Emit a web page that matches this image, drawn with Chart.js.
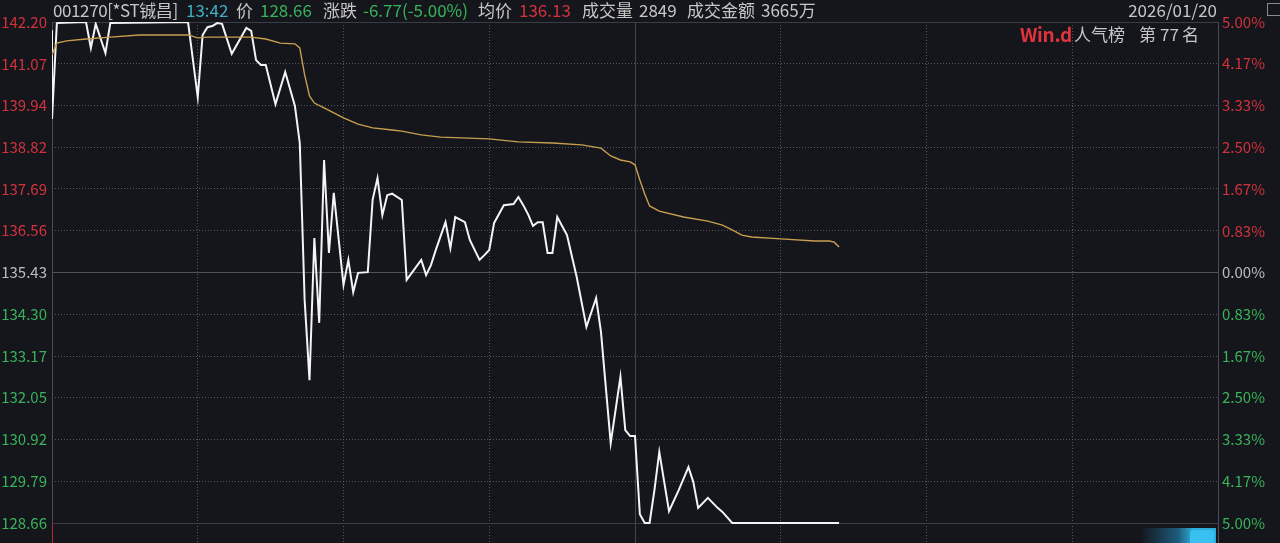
<!DOCTYPE html>
<html>
<head>
<meta charset="utf-8">
<script src="https://cdn.jsdelivr.net/npm/chart.js@4.4.1/dist/chart.umd.min.js"></script>
<style>
  html, body { margin: 0; padding: 0; background: #14161c; }
  #wrap { position: relative; width: 1280px; height: 543px; overflow: hidden;
          font-family: "Noto Sans CJK SC", "Noto Sans", sans-serif; }
  #wrap canvas { position: absolute; left: 0; top: 0; }
  .t { position: absolute; top: 0; line-height: 20px; font-size: 17px; color: #c6c6c6; white-space: nowrap; }
  .red { color: #d3323d; }
  .green { color: #39b35a; }
  .teal { color: #3fb0c2; }
  .lg { position: absolute; top: 24px; line-height: 20px; font-size: 17px; color: #c6c6c6; white-space: nowrap; }
  .lg.win { color: #e0333b; font-size: 19px; font-weight: 700; letter-spacing: -0.3px; }
  .blob { position: absolute; left: 1140px; top: 528px; width: 76px; height: 15px;
          background: linear-gradient(90deg, rgba(40,150,210,0) 0%, rgba(40,160,220,0.5) 50%, rgba(50,190,240,0.9) 70%); }
  .blob i { position: absolute; right: 2px; top: 2px; width: 24px; height: 16px; border-radius: 3px; background: #38c0f0; }
  .icon { position: absolute; left: 1267px; top: 3px; width: 12px; height: 11px; border: 1px solid #8a8a8a; }
</style>
</head>
<body>
<div id="wrap">
  <canvas id="fenshi" width="1280" height="543"></canvas>
  <span class="t" style="left:53px;letter-spacing:-0.4px">001270[*ST铖昌]</span>
  <span class="t teal" style="left:186px">13:42</span>
  <span class="t" style="left:236px">价</span>
  <span class="t green" style="left:260px">128.66</span>
  <span class="t" style="left:323px">涨跌</span>
  <span class="t green" style="left:363px">-6.77(-5.00%)</span>
  <span class="t" style="left:478px">均价</span>
  <span class="t red" style="left:519px">136.13</span>
  <span class="t" style="left:582px">成交量</span>
  <span class="t" style="left:639px">2849</span>
  <span class="t" style="left:687px">成交金额</span>
  <span class="t" style="left:761px">3665万</span>
  <span class="t" style="right:63px">2026/01/20</span>
  <span class="lg win" style="left:1020px">Win.d</span>
  <span class="lg" style="left:1074px">人气榜</span>
  <span class="lg" style="left:1139px">第</span>
  <span class="lg red" style="left:1160px">77</span>
  <span class="lg" style="left:1182px">名</span>
  <div class="icon"></div>
  <div class="blob"><i></i></div>
</div>
<script>
// minutes since 09:30 (11:30 and 13:00 share minute 120)
const minuteTicks = [0, 30, 60, 90, 120, 150, 180, 210, 240];

const priceLabels = ['142.20', '141.07', '139.94', '138.82', '137.69', '136.56', '135.43',
                     '134.30', '133.17', '132.05', '130.92', '129.79', '128.66'];
const pctLabels = ['5.00%', '4.17%', '3.33%', '2.50%', '1.67%', '0.83%', '0.00%',
                   '0.83%', '1.67%', '2.50%', '3.33%', '4.17%', '5.00%'];
const prevClose = 135.43;

// price line (vertices)
const priceMinutes = [0, 0, 1, 7, 8, 9, 11, 12, 28, 30, 31, 32, 33, 34, 35, 37, 40, 41, 42, 43, 44,
  46, 48, 50, 51, 52, 53, 54, 55, 56, 57, 58, 60, 61, 62, 63, 65, 66, 67, 68, 69, 70, 72, 73,
  76, 77, 78, 79, 81, 82, 83, 85, 86, 88, 89, 90, 91, 93, 95, 96, 97, 98, 99, 100, 101, 102,
  103, 104, 106, 108, 110, 112, 113, 115, 117, 118, 119, 120, 121, 122, 123, 124, 125, 127,
  129, 131, 132, 133, 135, 137, 138, 140, 162];
const prices = [141.98, 139.58, 142.17, 142.20, 141.50, 142.15, 141.36, 142.17, 142.20, 140.17,
  141.85, 142.06, 142.09, 142.17, 142.15, 141.34, 142.04, 141.96, 141.17, 141.04, 141.04,
  139.98, 140.85, 139.93, 138.93, 134.69, 132.52, 136.36, 134.07, 138.47, 135.96, 137.58,
  135.09, 135.77, 134.90, 135.42, 135.44, 137.40, 137.98, 136.98, 137.52, 137.56, 137.39,
  135.23, 135.77, 135.36, 135.63, 136.04, 136.79, 136.09, 136.93, 136.79, 136.31, 135.77,
  135.90, 136.04, 136.77, 137.25, 137.28, 137.47, 137.25, 137.00, 136.69, 136.79, 136.79,
  135.96, 135.96, 136.93, 136.44, 135.31, 133.96, 134.74, 133.82, 130.82, 132.61, 131.17,
  131.01, 131.01, 128.90, 128.66, 128.66, 129.55, 130.58, 128.98, 129.55, 130.17, 129.77,
  129.07, 129.34, 129.07, 128.96, 128.66, 128.66];

// average price line
const avgMinutes = [0, 1, 3, 7, 12, 18, 28, 30, 32, 41, 44, 47, 50, 51, 52, 53, 54, 56, 60, 63,
  66, 70, 72, 76, 80, 90, 96, 103, 109, 113, 115, 117, 119, 120, 121, 122, 123, 125, 130, 135,
  138, 140, 142, 144, 150, 157, 160, 161, 162];
const avgPrices = [141.31, 141.63, 141.69, 141.74, 141.79, 141.85, 141.85, 141.77, 141.79,
  141.79, 141.74, 141.63, 141.61, 141.50, 140.77, 140.20, 140.01, 139.88, 139.61, 139.44,
  139.34, 139.28, 139.25, 139.15, 139.09, 139.04, 138.96, 138.93, 138.88, 138.79, 138.58,
  138.47, 138.42, 138.34, 137.93, 137.55, 137.23, 137.09, 136.93, 136.82, 136.71, 136.58,
  136.44, 136.39, 136.34, 136.28, 136.28, 136.25, 136.12];

const RED = '#d3323d';
const GREEN = '#39b35a';
const GREY_TXT = '#bdbdbd';
const DOT = 'rgba(105,108,118,0.75)';

const priceHigh = parseFloat(priceLabels[0]);
const priceLow = parseFloat(priceLabels[priceLabels.length - 1]);
// the pane runs a little below the lowest price line
const gapRatio = 20 / 501;
const yMin = priceLow - (priceHigh - priceLow) * gapRatio;
const pctMin = -5 - 10 * gapRatio;

const pctValue = (l, i) => (i < 6 ? 1 : i === 6 ? 0 : -1) * parseFloat(l);
const labelColor = i => (i < 6 ? RED : i === 6 ? GREY_TXT : GREEN);

const toPoints = (xs, ys) => xs.map((m, i) => ({ x: m, y: ys[i] }));

// no extra room for the end labels, the layout padding already holds them
const noPad = s => { s.paddingTop = 0; s.paddingBottom = 0; s.paddingLeft = 0; s.paddingRight = 0; };

const framePlugin = {
  id: 'frame',
  beforeDatasetsDraw(chart) {
    const { ctx, chartArea } = chart;
    const x = chart.scales.x, y = chart.scales.y;
    const h = v => Math.round(y.getPixelForValue(v)) + 0.5;
    const v = m => Math.round(x.getPixelForValue(m)) + 0.5;
    const line = (x1, y1, x2, y2, c) => {
      ctx.beginPath(); ctx.strokeStyle = c; ctx.lineWidth = 1;
      ctx.moveTo(x1, y1); ctx.lineTo(x2, y2); ctx.stroke();
    };
    ctx.save();
    const l = v(0), r = v(240);
    line(l, h(priceHigh), r, h(priceHigh), '#3a3d45');
    line(l, h(priceLow), r, h(priceLow), '#3a3d45');
    line(l, h(prevClose), r, h(prevClose), '#4e515a');
    line(v(120), chartArea.top, v(120), chartArea.bottom, '#42454d');
    line(r, chartArea.top, r, chartArea.bottom, '#4a4d55');
    line(l, chartArea.top, l, h(priceLow), '#4a4d55');
    line(l, h(priceLow), l, chartArea.bottom, '#b8262f');
    ctx.restore();
  }
};

new Chart(document.getElementById('fenshi'), {
  type: 'scatter',
  data: {
    datasets: [
      {
        label: '均价',
        data: toPoints(avgMinutes, avgPrices),
        showLine: true,
        borderColor: '#c99f4f',
        borderWidth: 1.4,
        pointRadius: 0,
        tension: 0
      },
      {
        label: '价',
        data: toPoints(priceMinutes, prices),
        showLine: true,
        borderColor: '#f4f4f4',
        borderWidth: 2,
        pointRadius: 0,
        tension: 0
      }
    ]
  },
  options: {
    responsive: false,
    animation: false,
    layout: { padding: { top: 22, left: 0, right: 0, bottom: 0 } },
    plugins: { legend: { display: false }, tooltip: { enabled: false } },
    scales: {
      x: {
        type: 'linear',
        min: 0,
        max: 240,
        afterBuildTicks: s => { s.ticks = minuteTicks.map(m => ({ value: m })); },
        afterFit: s => { s.height = 0; noPad(s); },
        ticks: { display: false },
        border: { display: false, dash: [1, 2] },
        grid: {
          drawTicks: false,
          color: c => ([0, 120, 240].includes(c.tick.value) ? 'transparent' : DOT)
        }
      },
      y: {
        position: 'left',
        min: yMin,
        max: priceHigh,
        afterBuildTicks: s => { s.ticks = priceLabels.map(l => ({ value: parseFloat(l) })); },
        afterFit: s => { s.width = 52; noPad(s); },
        ticks: {
          padding: 5,
          callback: (val, i) => priceLabels[i],
          color: c => labelColor(c.index),
          font: { family: '"Noto Sans CJK SC", "Noto Sans", sans-serif', size: 15 }
        },
        border: { display: false, dash: [1, 2] },
        grid: {
          drawTicks: false,
          color: c => ([0, 6, 12].includes(c.index) ? 'transparent' : DOT)
        }
      },
      y1: {
        position: 'right',
        min: pctMin,
        max: 5,
        afterBuildTicks: s => { s.ticks = pctLabels.map((l, i) => ({ value: pctValue(l, i) })); },
        afterFit: s => { s.width = 62; noPad(s); },
        ticks: {
          padding: 4,
          callback: (val, i) => pctLabels[i],
          color: c => labelColor(c.index),
          font: { family: '"Noto Sans CJK SC", "Noto Sans", sans-serif', size: 15 }
        },
        border: { display: false },
        grid: { display: false, drawTicks: false }
      }
    }
  },
  plugins: [framePlugin]
});
</script>
</body>
</html>
